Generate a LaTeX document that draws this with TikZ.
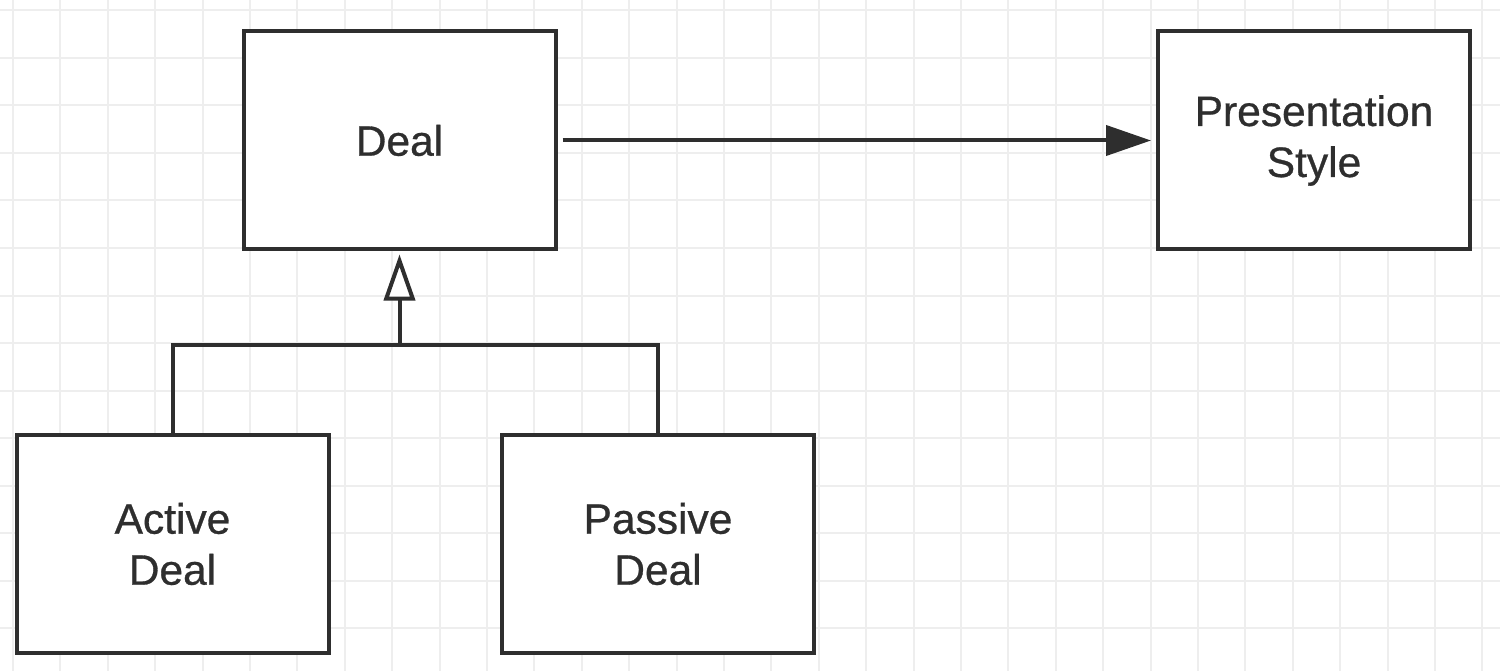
\documentclass[tikz,border=0pt]{standalone}
\usepackage{fontspec}
\setmainfont{Liberation Sans}
\newfontfamily\boxfont{Liberation Sans}[FakeBold=0.7]
\usetikzlibrary{arrows.meta}
\definecolor{gridc}{HTML}{EEEEEE}
\definecolor{ink}{HTML}{2E2E2E}
\tikzset{
  box/.style={draw=ink, line width=4pt, fill=white, minimum width=312pt, minimum height=218pt,
    align=center, inner sep=0pt, font=\boxfont\fontsize{42.5}{51}\selectfont, text=ink},
  conn/.style={draw=ink, line width=4pt},
}
\begin{document}
\begin{tikzpicture}[x=1pt,y=-1pt]
\useasboundingbox (0,0) rectangle (1500,671);
\fill[white] (0,0) rectangle (1500,671);
\foreach \i in {0,...,31} {\draw[gridc, line width=2pt] ({13+47.4*\i},0) -- ({13+47.4*\i},671);}
\foreach \j in {0,...,14} {\draw[gridc, line width=2pt] (0,{10.5+47.5*\j}) -- (1500,{10.5+47.5*\j});}
\node[box] (deal) at (399.5,140.5) {Deal};
\node[box] (pres) at (1314,140.5) {Presentation\\Style};
\node[box] (active) at (172.5,544) {Active\\Deal};
\node[box] (passive) at (658,544) {Passive\\Deal};
\coordinate (j) at (399.5,345);
\draw[conn, -{Triangle[length=45pt,width=30pt]}, shorten <=5pt, shorten >=5pt] (deal.east) -- (pres.west);
\draw[conn] (active.north) |- (j) -| (passive.north);
\draw[conn, -{Triangle[open,fill=white,length=46pt,width=31pt]}, shorten >=3pt] (j) -- (deal.south);
\end{tikzpicture}
\end{document}
